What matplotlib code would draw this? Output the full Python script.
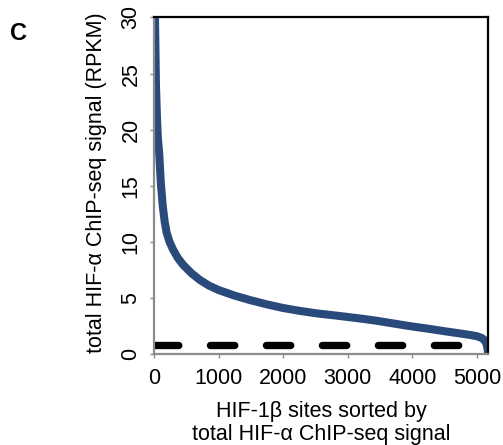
import matplotlib
matplotlib.use("Agg")
import matplotlib.pyplot as plt

plt.rcParams['font.family'] = ['Liberation Sans', 'DejaVu Sans']
plt.rcParams['lines.scale_dashes'] = False

# sorted HIF-1b sites (rank) vs total HIF-a signal
site_rank = [0, 15, 30, 45, 60, 80, 105, 135, 165, 196, 240, 295, 370, 450,
             580, 710, 850, 1000, 1250, 1490, 1750, 2000, 2250, 2520, 2750,
             3000, 3250, 3450, 3750, 4000, 4250, 4475, 4750, 4890, 5000, 5070,
             5120, 5150, 5165, 5170]
hif_signal = [45, 30, 24, 21.2, 19.2, 17.9, 15.3, 13.2, 11.8, 10.8, 10.0, 9.3,
              8.55, 7.95, 7.2, 6.6, 6.1, 5.7, 5.2, 4.8, 4.42, 4.1, 3.85, 3.62,
              3.47, 3.3, 3.12, 2.96, 2.68, 2.45, 2.25, 2.05, 1.82, 1.7, 1.58,
              1.44, 1.22, 0.85, 0.4, 0.1]

# background level (dashed line)
bg_x = [0, 5170]
bg_y = [0.78, 0.78]

x_ticks = [0, 1000, 2000, 3000, 4000, 5000]
y_ticks = [0, 5, 10, 15, 20, 25, 30]

fig = plt.figure(figsize=(5.03, 4.45), dpi=100)
ax = fig.add_axes([0.3062, 0.2045, 0.664, 0.7562])

ax.plot(bg_x, bg_y, color='black', lw=5.3, solid_capstyle='round',
        dash_capstyle='round', dashes=(17.5, 22.8))
ax.plot(site_rank, hif_signal, color='#2b4a7c', lw=5.8, solid_joinstyle='round')

ax.set_xlim(0, 5170)
ax.set_ylim(0, 30)
ax.set_xticks(x_ticks)
ax.set_yticks(y_ticks)

grey = '#8c8c8c'
ax.spines['left'].set_color(grey)
ax.spines['bottom'].set_color(grey)
ax.spines['top'].set_color('black')
ax.spines['right'].set_color('black')
for s in ax.spines.values():
    s.set_linewidth(1.6)

ax.tick_params(axis='both', direction='out', length=3, width=1, color=grey,
               labelsize=15.5, pad=7)
ax.tick_params(axis='y', labelrotation=90, pad=6)
for t in ax.get_yticklabels():
    t.set_va('center')

ax.set_ylabel('total HIF-α ChIP-seq signal (RPKM)', fontsize=15.5)
ax.yaxis.set_label_coords(-0.14, 0.51)
ax.set_xlabel('HIF-1β sites sorted by\ntotal HIF-α ChIP-seq signal',
              fontsize=15.5, linespacing=1.1)
ax.xaxis.set_label_coords(0.5, -0.14)
ax.xaxis.label.set_va('top')

fig.text(0.036, 0.925, 'C', fontsize=17, fontweight='bold', ha='center', va='center')

fig.savefig('out.png', dpi=100)
